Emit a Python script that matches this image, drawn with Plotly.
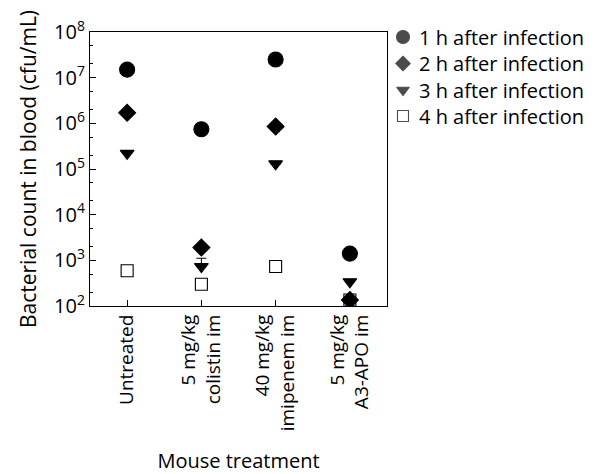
import plotly.graph_objects as go

categories = ["Untreated", "5 mg/kg<br>colistin im", "40 mg/kg<br>imipenem im", "5 mg/kg<br>A3-APO im"]
series_names = ["1 h after infection", "2 h after infection", "3 h after infection", "4 h after infection"]
h1 = [1.5e7, 7.4e5, 2.5e7, 1.4e3]
h2 = [1.7e6, 1.9e3, 8.5e5, 135]
h3 = [2.2e5, 730, 1.3e5, 340]
h4 = [590, 300, 730, 135]
h3_err_plus = [0, 380, 0, 0]
y_tickvals = [1e2, 1e3, 1e4, 1e5, 1e6, 1e7, 1e8]
y_ticktext = ["10<sup>2</sup>", "10<sup>3</sup>", "10<sup>4</sup>", "10<sup>5</sup>",
              "10<sup>6</sup>", "10<sup>7</sup>", "10<sup>8</sup>"]

FONT = "Open Sans"
FS = 19
x = list(range(len(categories)))

symbols = ["circle", "diamond", "triangle-down", "square-open"]
sizes = [15, 13, 12, 12]
legend_sizes = [13, 11, 11, 11]

fig = go.Figure()
for i, vals in enumerate([h1, h2, h3, h4]):
    kw = {}
    if i == 2:
        kw["error_y"] = dict(type="data", array=h3_err_plus, arrayminus=[0] * 4,
                             color="black", thickness=1, width=5)
    fig.add_trace(go.Scatter(x=x, y=vals, mode="markers", name=series_names[i],
                             marker=dict(symbol=symbols[i], size=sizes[i], color="black",
                                         line=dict(width=1.1, color="black")),
                             showlegend=False, **kw))

# page body has an 8px margin: compensate so the figure lands on the window pixels
OFF = 8
W, H = 595, 474
L, R, T, B = 90, 0, 32, 168
plot_right = 387
split = (plot_right - L) / (W - L - R)
leg_rows = [37, 63.5, 90, 116]
leg_marker_x = 403
leg_text_x = 417
fig.add_trace(go.Scatter(x=[leg_marker_x] * 4, y=leg_rows, mode="markers",
                         xaxis="x2", yaxis="y2", showlegend=False, hoverinfo="skip",
                         cliponaxis=False,
                         marker=dict(symbol=symbols, size=legend_sizes, color="black",
                                     line=dict(width=1.1, color="black"))))
annotations = []
for name, ry in zip(series_names, leg_rows):
    annotations.append(dict(x=leg_text_x, y=ry, xref="x2", yref="y2", text=name,
                            showarrow=False, xanchor="left", yanchor="middle",
                            font=dict(size=20, family=FONT, color="black")))

fig.update_layout(
    width=W - OFF, height=H - OFF,
    margin=dict(l=L - OFF, r=R, t=T - OFF, b=B, pad=0),
    paper_bgcolor="white", plot_bgcolor="white",
    font=dict(family=FONT, size=FS, color="black"),
    showlegend=False,
    annotations=annotations,
    xaxis=dict(domain=[0, split], range=[-0.5, 3.5], tickvals=x, ticktext=categories, tickangle=-90,
               ticks="inside", ticklen=6, tickcolor="black", showline=True,
               linecolor="black", linewidth=1, mirror=True, showgrid=False,
               zeroline=False, tickfont=dict(size=FS),
               title=dict(text="Mouse treatment", font=dict(size=20), standoff=25)),
    yaxis=dict(type="log", range=[2, 8], tickvals=y_tickvals, ticktext=y_ticktext,
               ticks="inside", ticklen=6, tickcolor="black", showline=True,
               linecolor="black", linewidth=1, mirror=True, showgrid=False,
               zeroline=False, tickfont=dict(size=20), ticksuffix="\u00a0\u00a0\u00a0\u00a0",
               minor=dict(ticks="inside", ticklen=3, tickcolor="black", showgrid=False),
               title=dict(text="Bacterial count in blood (cfu/mL)", font=dict(size=21), standoff=11)),
    xaxis2=dict(domain=[split, 1], range=[plot_right, W - R], visible=False, anchor="y2"),
    yaxis2=dict(domain=[0, 1], range=[H - B, T], visible=False, anchor="x2"),
)

fig.write_html("out.html")
